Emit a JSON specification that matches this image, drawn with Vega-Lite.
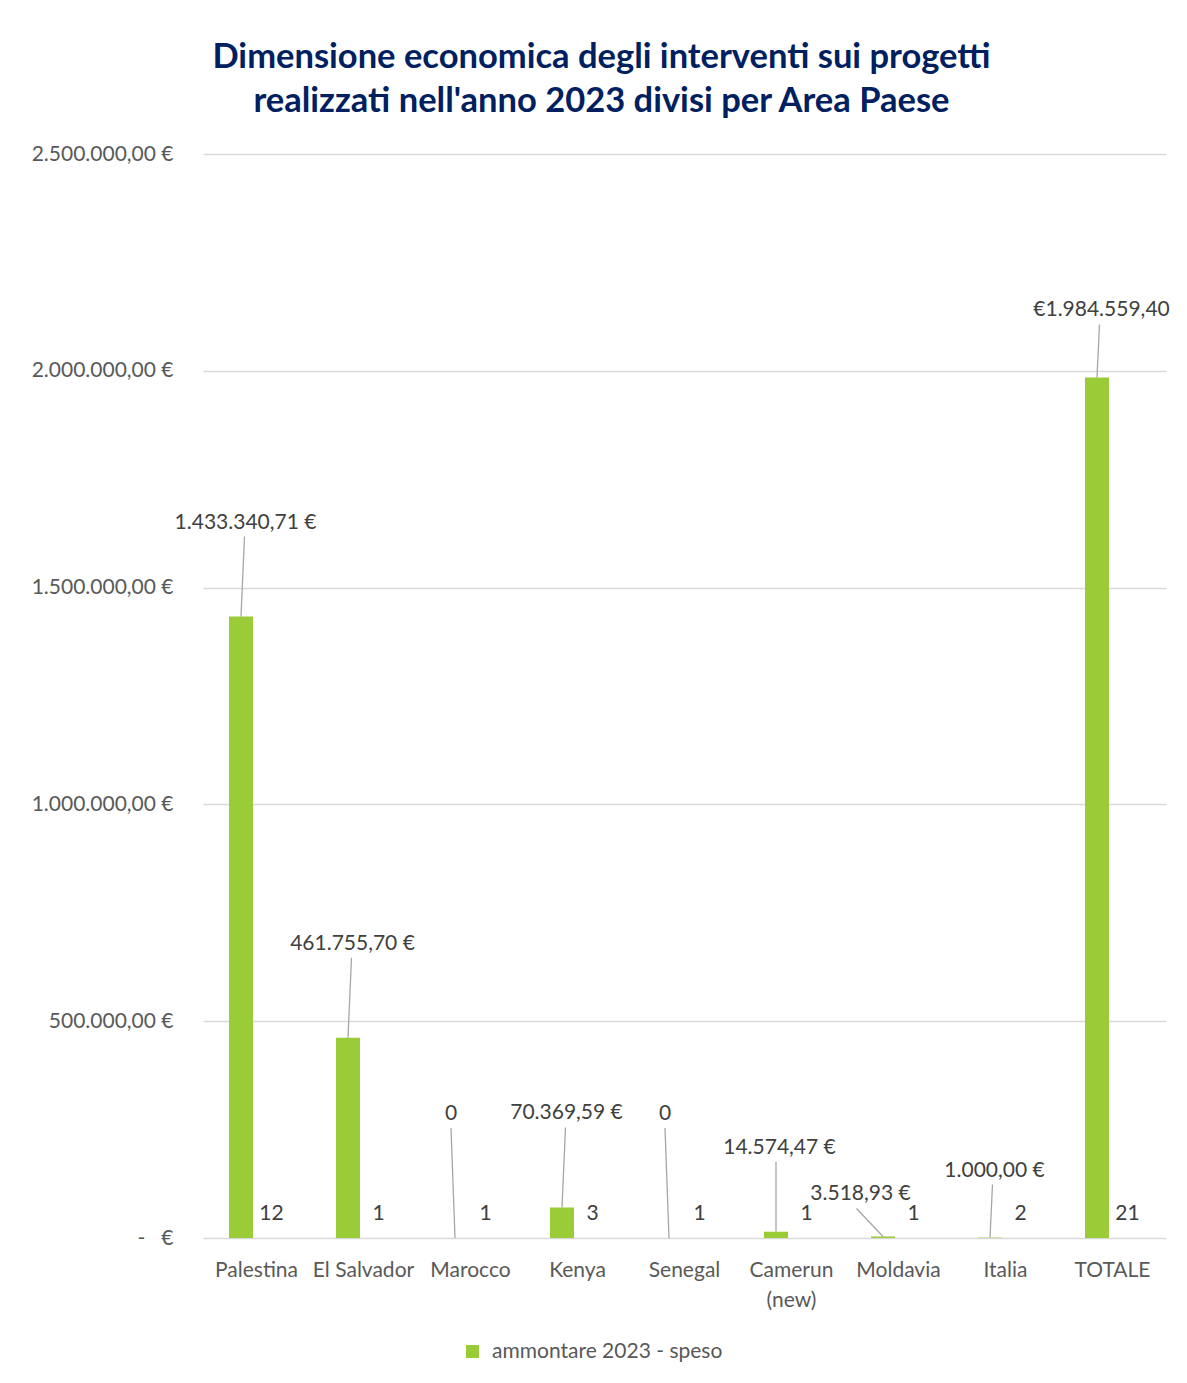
{
  "$schema": "https://vega.github.io/schema/vega-lite/v6.json",
  "width": 963,
  "height": 1084,
  "autosize": {"type": "none"},
  "padding": {"left": 203, "top": 154, "right": 21, "bottom": 145},
  "background": "white",
  "config": {
    "view": {"stroke": null},
    "font": "Lato",
    "locale": {"number": {"decimal": ",", "thousands": ".", "grouping": [3], "currency": ["", " €"]}}
  },
  "title": {
    "text": ["Dimensione economica degli interventi sui progetti", "realizzati nell'anno 2023 divisi per Area Paese"],
    "anchor": "middle",
    "dx": -83,
    "fontSize": 34.5,
    "fontWeight": "bold",
    "color": "#002060",
    "lineHeight": 44,
    "offset": 24,
    "font": "Lato"
  },
  "data": {
    "values": [
      {"paese": "Palestina", "ammontare": 1433340.71, "progetti": 12, "etichetta": "1.433.340,71 €"},
      {"paese": "El Salvador", "ammontare": 461755.70, "progetti": 1, "etichetta": "461.755,70 €"},
      {"paese": "Marocco", "ammontare": 0, "progetti": 1, "etichetta": "0"},
      {"paese": "Kenya", "ammontare": 70369.59, "progetti": 3, "etichetta": "70.369,59 €"},
      {"paese": "Senegal", "ammontare": 0, "progetti": 1, "etichetta": "0"},
      {"paese": "Camerun (new)", "ammontare": 14574.47, "progetti": 1, "etichetta": "14.574,47 €"},
      {"paese": "Moldavia", "ammontare": 3518.93, "progetti": 1, "etichetta": "3.518,93 €"},
      {"paese": "Italia", "ammontare": 1000.00, "progetti": 2, "etichetta": "1.000,00 €"},
      {"paese": "TOTALE", "ammontare": 1984559.40, "progetti": 21, "etichetta": "€1.984.559,40"}
    ]
  },
  "encoding": {
    "x": {
      "field": "paese",
      "type": "nominal",
      "sort": null,
      "scale": {"paddingInner": 0, "paddingOuter": 0},
      "axis": {
        "title": null,
        "domain": false,
        "ticks": false,
        "labelPadding": 21,
        "labelFontSize": 21,
        "labelColor": "#595959",
        "labelAngle": 0,
        "labelBaseline": "top",
        "labelLineHeight": 30,
        "labelOverlap": false,
        "labelFont": "Lato",
        "labelExpr": "datum.value == 'Camerun (new)' ? ['Camerun', '(new)'] : datum.label"
      }
    }
  },
  "layer": [
    {
      "mark": {"type": "bar", "width": 24, "xOffset": -15.5},
      "encoding": {
        "y": {
          "field": "ammontare",
          "type": "quantitative",
          "scale": {"domain": [0, 2500000], "nice": false},
          "axis": {
            "title": null,
            "values": [0, 500000, 1000000, 1500000, 2000000, 2500000],
            "labelExpr": "datum.value == 0 ? '-\u00a0\u00a0\u00a0€' : format(datum.value, ',.2f') + '\u00a0€'",
            "domain": false,
            "ticks": false,
            "labelPadding": 30,
            "labelFontSize": 21,
            "labelColor": "#595959",
            "labelFont": "Lato",
            "gridColor": "#D9D9D9",
            "gridWidth": 1.3
          }
        },
        "color": {
          "datum": "ammontare 2023 - speso",
          "scale": {"range": ["#9ACC37"]},
          "legend": {
            "orient": "none",
            "legendX": 259,
            "legendY": 1187,
            "title": null,
            "symbolType": "square",
            "symbolSize": 169,
            "symbolStrokeWidth": 0,
            "labelFontSize": 21,
            "labelColor": "#595959",
            "labelFont": "Lato",
            "labelOffset": 9,
            "labelLimit": 400,
            "padding": 0
          }
        }
      }
    },
    {
      "transform": [{"filter": {"field": "paese", "oneOf": ["Palestina", "El Salvador", "Kenya"]}}],
      "layer": [
        {
          "mark": {"type": "rule", "xOffset": -15.5, "x2Offset": -12, "y2Offset": -80, "color": "#A6A6A6", "strokeWidth": 1.3},
          "encoding": {"x2": {"field": "paese"}, "y": {"field": "ammontare", "type": "quantitative"}, "y2": {"field": "ammontare"}}
        },
        {
          "mark": {"type": "text", "xOffset": -11, "dy": -88, "baseline": "alphabetic", "fontSize": 21, "color": "#404040", "font": "Lato"},
          "encoding": {"y": {"field": "ammontare", "type": "quantitative"}, "text": {"field": "etichetta"}}
        }
      ]
    },
    {
      "transform": [{"filter": {"field": "paese", "equal": "Camerun (new)"}}],
      "layer": [
        {
          "mark": {"type": "rule", "xOffset": -15.5, "x2Offset": -15.5, "y2Offset": -70, "color": "#A6A6A6", "strokeWidth": 1.3},
          "encoding": {"x2": {"field": "paese"}, "y": {"field": "ammontare", "type": "quantitative"}, "y2": {"field": "ammontare"}}
        },
        {
          "mark": {"type": "text", "xOffset": -12, "dy": -78, "baseline": "alphabetic", "fontSize": 21, "color": "#404040", "font": "Lato"},
          "encoding": {"y": {"field": "ammontare", "type": "quantitative"}, "text": {"field": "etichetta"}}
        }
      ]
    },
    {
      "transform": [{"filter": {"field": "paese", "oneOf": ["Marocco", "Senegal"]}}],
      "layer": [
        {
          "mark": {"type": "rule", "xOffset": -15.5, "x2Offset": -19.5, "y2Offset": -110, "color": "#A6A6A6", "strokeWidth": 1.3},
          "encoding": {"x2": {"field": "paese"}, "y": {"field": "ammontare", "type": "quantitative"}, "y2": {"field": "ammontare"}}
        },
        {
          "mark": {"type": "text", "xOffset": -19.5, "dy": -118, "baseline": "alphabetic", "fontSize": 21, "color": "#404040", "font": "Lato"},
          "encoding": {"y": {"field": "ammontare", "type": "quantitative"}, "text": {"field": "etichetta"}}
        }
      ]
    },
    {
      "transform": [{"filter": {"field": "paese", "oneOf": ["Italia", "TOTALE"]}}],
      "layer": [
        {
          "mark": {"type": "rule", "xOffset": -15.5, "x2Offset": -13, "y2Offset": -53, "color": "#A6A6A6", "strokeWidth": 1.3},
          "encoding": {"x2": {"field": "paese"}, "y": {"field": "ammontare", "type": "quantitative"}, "y2": {"field": "ammontare"}}
        },
        {
          "mark": {"type": "text", "xOffset": -11, "dy": -61, "baseline": "alphabetic", "fontSize": 21, "color": "#404040", "font": "Lato"},
          "encoding": {"y": {"field": "ammontare", "type": "quantitative"}, "text": {"field": "etichetta"}}
        }
      ]
    },
    {
      "transform": [{"filter": {"field": "paese", "equal": "Moldavia"}}],
      "layer": [
        {
          "mark": {"type": "rule", "xOffset": -15.5, "x2Offset": -42, "y2Offset": -28, "color": "#A6A6A6", "strokeWidth": 1.3},
          "encoding": {"x2": {"field": "paese"}, "y": {"field": "ammontare", "type": "quantitative"}, "y2": {"field": "ammontare"}}
        },
        {
          "mark": {"type": "text", "xOffset": -38, "dy": -36, "baseline": "alphabetic", "fontSize": 21, "color": "#404040", "font": "Lato"},
          "encoding": {"y": {"field": "ammontare", "type": "quantitative"}, "text": {"field": "etichetta"}}
        }
      ]
    },
    {
      "mark": {"type": "text", "xOffset": 15, "dy": -18, "baseline": "alphabetic", "fontSize": 21, "color": "#404040", "font": "Lato"},
      "encoding": {
        "y": {"datum": 0, "type": "quantitative"},
        "text": {"field": "progetti", "type": "quantitative"}
      }
    }
  ]
}
